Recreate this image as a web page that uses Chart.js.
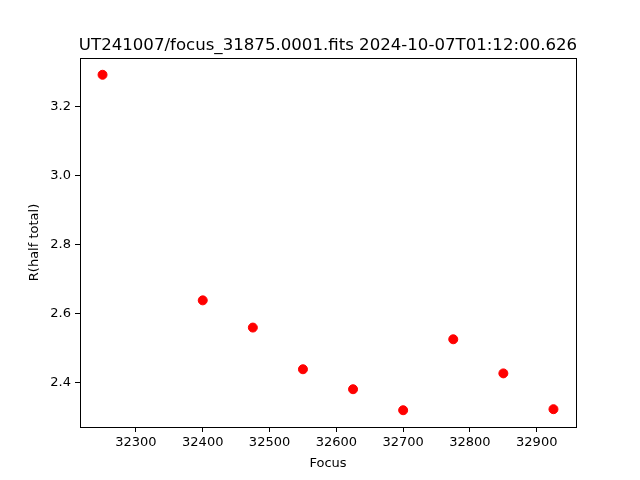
<!DOCTYPE html>
<html>
<head>
<meta charset="utf-8">
<script src="https://cdn.jsdelivr.net/npm/chart.js@4/dist/chart.umd.min.js"></script>
<style>
  html, body { margin: 0; padding: 0; background: #fff; }
  #wrap { width: 640px; height: 480px; }
</style>
</head>
<body>
<div id="wrap"><canvas id="focusChart" width="640" height="480"></canvas></div>
<script>
const focusValues = [32250, 32400, 32475, 32550, 32625, 32700, 32775, 32850, 32925];
const halfTotal = [3.293, 2.638, 2.559, 2.438, 2.380, 2.319, 2.525, 2.426, 2.322];
const xTicks = [32300, 32400, 32500, 32600, 32700, 32800, 32900];
const yTicks = [2.4, 2.6, 2.8, 3.0, 3.2];
const chartTitle = 'UT241007/focus_31875.0001.fits 2024-10-07T01:12:00.626';

const fontFamily = '"DejaVu Sans", sans-serif';

// full box round the plot area, and the title centred over it (matplotlib style)
const frameBox = {
    id: 'frameBox',
    afterDraw(chart) {
        const a = chart.chartArea;
        const c = chart.ctx;
        c.save();
        c.strokeStyle = '#000';
        c.lineWidth = 1;
        c.strokeRect(Math.round(a.left) + 0.5, Math.round(a.top) + 0.5,
            Math.round(a.right - a.left), Math.round(a.bottom - a.top));
        c.fillStyle = '#000';
        c.font = '16.6px ' + fontFamily;
        c.textAlign = 'center';
        c.textBaseline = 'alphabetic';
        c.fillText(chartTitle, (a.left + a.right) / 2, a.top - 8);
        c.restore();
    }
};

const ctx = document.getElementById('focusChart');
new Chart(ctx, {
    type: 'scatter',
    data: {
        datasets: [{
            data: focusValues.map((x, i) => ({ x: x, y: halfTotal[i] })),
            backgroundColor: '#ff0000',
            borderColor: '#ff0000',
            pointRadius: 4.5,
            pointHoverRadius: 4.5
        }]
    },
    options: {
        responsive: false,
        animation: false,
        layout: { padding: { left: 0, right: 64, top: 58, bottom: 0 } },
        plugins: {
            legend: { display: false },
            tooltip: { enabled: false },
            title: { display: false }
        },
        scales: {
            x: {
                type: 'linear',
                min: 32216.25,
                max: 32958.75,
                afterBuildTicks: s => { s.ticks = xTicks.map(v => ({ value: v })); },
                afterFit: s => { s.height = 53; },
                grid: { drawOnChartArea: false, tickLength: 5, tickColor: '#000' },
                border: { color: '#000' },
                ticks: {
                    color: '#000',
                    padding: 3,
                    maxRotation: 0,
                    font: { family: fontFamily, size: 13 },
                    callback: v => String(v)
                },
                title: {
                    display: true,
                    text: 'Focus',
                    color: '#000',
                    font: { family: fontFamily, size: 13 },
                    padding: { top: 4, bottom: 9 }
                }
            },
            y: {
                type: 'linear',
                min: 2.2703,
                max: 3.3417,
                afterBuildTicks: s => { s.ticks = yTicks.map(v => ({ value: v })); },
                afterFit: s => { s.width = 80; },
                grid: { drawOnChartArea: false, tickLength: 5, tickColor: '#000' },
                border: { color: '#000' },
                ticks: {
                    color: '#000',
                    padding: 4,
                    font: { family: fontFamily, size: 13 },
                    callback: v => Number(v).toFixed(1)
                },
                title: {
                    display: true,
                    text: 'R(half total)',
                    color: '#000',
                    font: { family: fontFamily, size: 13 },
                    padding: { top: 27, bottom: 6 }
                }
            }
        }
    },
    plugins: [frameBox]
});
</script>
</body>
</html>
